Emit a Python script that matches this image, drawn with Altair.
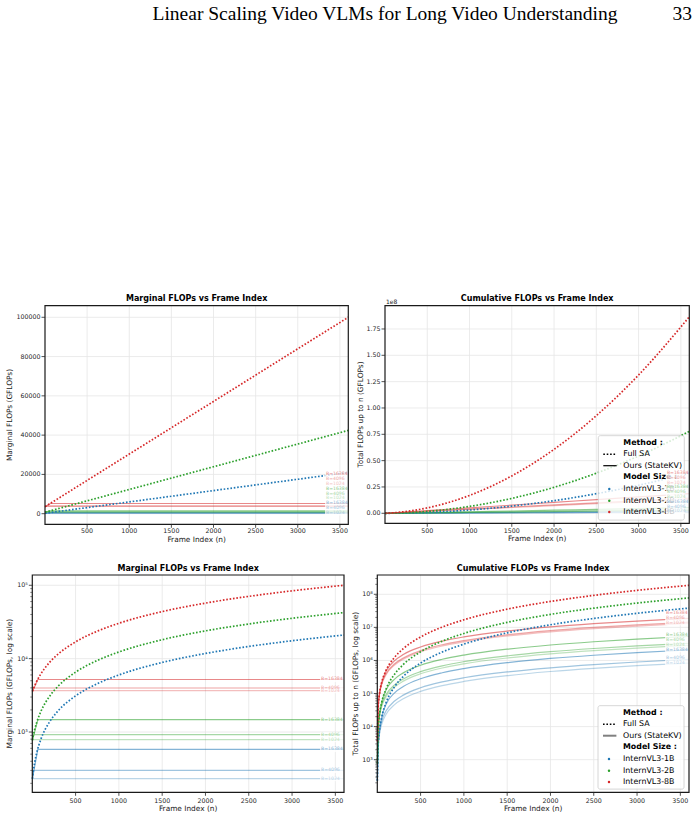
import altair as alt
import pandas as pd

FONT = "DejaVu Sans"
SERIF = "Liberation Serif"
INK = "#1a1a1a"
TICK_INK = "#262626"
GRID = "#e6e6e6"

# ---------------- data (GFLOPs) ----------------
FRAMES = [1, 10, 25, 50, 100, 200, 300, 500, 750, 1000, 1500, 2000, 2500, 3000, 3600]
MODELS = ["InternVL3-1B", "InternVL3-2B", "InternVL3-8B"]
MODEL_COLORS = ["#1f77b4", "#2ca02c", "#d62728"]
BUDGETS = [1024, 4096, 16384]
BUDGET_ALPHA = [0.3, 0.55, 0.85]

# Full self-attention: cost of processing frame n
FULL_MARG_1B = [231, 283, 369, 514, 802, 1379, 1956, 3110, 4553, 5995, 8880, 11765, 14650, 17535, 21000]
FULL_MARG_2B = [772, 876, 1049, 1339, 1917, 3074, 4231, 6545, 9438, 12330, 18115, 23900, 29685, 35470, 42410]
FULL_MARG_8B = [3580, 3820, 4220, 4890, 6230, 8910, 11590, 16950, 23650, 30350, 43750, 57150, 70550, 83950, 100000]

# StateKV: cost of frame 1, frame where the state budget fills up, plateau cost per budget
OURS_MARG_FIRST = [231, 772, 3580]
OURS_KNEE_FRAME = [4, 16, 64]
OURS_MARG_1B = [232, 300, 580]
OURS_MARG_2B = [790, 920, 1480]
OURS_MARG_8B = [3660, 3980, 5200]

# Cumulative cost up to frame n
FULL_CUM_1B = [231, 2570, 7500, 18610, 51640, 161000, 328000, 835200, 1794000, 3113000, 6833000, 11996000, 18601000, 26649000, 38210000]
FULL_CUM_2B = [772, 8236, 22760, 52750, 134400, 384600, 750400, 1829000, 3828000, 6551000, 14165000, 24670000, 38070000, 54360000, 77730000]
FULL_CUM_8B = [3580, 36970, 97460, 211700, 490300, 1249000, 2275000, 5132000, 10210000, 16960000, 35500000, 60730000, 92660000, 131300000, 186500000]

OURS_CUM_1B_B1024 = [231, 2318, 5798, 11600, 23200, 46400, 69600, 116000, 174000, 232000, 348000, 464000, 580000, 696000, 835200]
OURS_CUM_1B_B4096 = [231, 2570, 6950, 14450, 29450, 59450, 89450, 149400, 224400, 299400, 449400, 599400, 749400, 899400, 1079000]
OURS_CUM_1B_B16384 = [231, 2570, 7506, 18620, 46830, 104800, 162800, 278800, 423800, 568800, 858800, 1149000, 1439000, 1729000, 2077000]
OURS_CUM_2B_B1024 = [772, 7864, 19710, 39460, 78960, 158000, 237000, 395000, 592500, 790000, 1185000, 1580000, 1975000, 2370000, 2844000]
OURS_CUM_2B_B4096 = [772, 8236, 22020, 45020, 91020, 183000, 275000, 459000, 689000, 919000, 1379000, 1839000, 2299000, 2759000, 3311000]
OURS_CUM_2B_B16384 = [772, 8236, 22770, 52750, 125300, 273300, 421300, 717300, 1087000, 1457000, 2197000, 2937000, 3677000, 4417000, 5305000]
OURS_CUM_8B_B1024 = [3580, 36440, 91340, 182800, 365800, 731800, 1098000, 1830000, 2745000, 3660000, 5490000, 7320000, 9150000, 10980000, 13180000]
OURS_CUM_8B_B4096 = [3580, 36970, 96320, 195800, 394800, 792800, 1191000, 1987000, 2982000, 3977000, 5967000, 7957000, 9947000, 11940000, 14320000]
OURS_CUM_8B_B16384 = [3580, 36970, 97460, 211700, 468200, 988200, 1508000, 2548000, 3848000, 5148000, 7748000, 10350000, 12950000, 15550000, 18670000]

# ---------------- long tables ----------------
def full_table(series):
    rows = []
    for model, vals in zip(MODELS, series):
        rows += [{"n": n, "v": v, "model": model} for n, v in zip(FRAMES, vals)]
    return pd.DataFrame(rows)


full_marg = full_table([FULL_MARG_1B, FULL_MARG_2B, FULL_MARG_8B])
full_cum = full_table([FULL_CUM_1B, FULL_CUM_2B, FULL_CUM_8B])

rows = []
for model, first, plateaus in zip(MODELS, OURS_MARG_FIRST, [OURS_MARG_1B, OURS_MARG_2B, OURS_MARG_8B]):
    for b, knee, p in zip(BUDGETS, OURS_KNEE_FRAME, plateaus):
        for n, v in [(FRAMES[0], first), (knee, p), (FRAMES[-1], p)]:
            rows.append({"n": n, "v": v, "model": model, "budget": b, "series": f"{model}-{b}"})
ours_marg = pd.DataFrame(rows)

cum_series = [
    (MODELS[0], [OURS_CUM_1B_B1024, OURS_CUM_1B_B4096, OURS_CUM_1B_B16384]),
    (MODELS[1], [OURS_CUM_2B_B1024, OURS_CUM_2B_B4096, OURS_CUM_2B_B16384]),
    (MODELS[2], [OURS_CUM_8B_B1024, OURS_CUM_8B_B4096, OURS_CUM_8B_B16384]),
]
rows = []
for model, per_budget in cum_series:
    for b, vals in zip(BUDGETS, per_budget):
        rows += [{"n": n, "v": v, "model": model, "budget": b, "series": f"{model}-{b}"}
                 for n, v in zip(FRAMES, vals)]
ours_cum = pd.DataFrame(rows)

# ---------------- budget annotations (8B first, largest budget first) ----------------
LABEL_N = 3335


def label_table(ys):
    out, i = [], 0
    for model in reversed(MODELS):
        for b in reversed(BUDGETS):
            out.append({"n": LABEL_N, "v": ys[i], "model": model, "budget": b, "label": f"B={b}"})
            i += 1
    return pd.DataFrame(out)


lab_p1 = label_table([20060 - i * 2460 for i in range(9)])
lab_p2 = label_table([0.383e8 - i * 0.0456e8 for i in range(9)])
lab_p3 = label_table([p for plist in [OURS_MARG_8B, OURS_MARG_2B, OURS_MARG_1B] for p in reversed(plist)])
lab_p4 = label_table([2.67e7, 1.88e7, 1.39e7, 5.77e6, 4.16e6, 3.0e6, 2.12e6, 1.16e6, 8.2e5])

# ---------------- page layout ----------------
GEOM = {
    "p1": {"left": 45.0, "right": 348.3, "top": 305.7, "bottom": 524.3},
    "p2": {"left": 385.0, "right": 689.3, "top": 305.7, "bottom": 523.3},
    "p3": {"left": 32.3, "right": 344.0, "top": 575.0, "bottom": 792.3},
    "p4": {"left": 377.3, "right": 689.0, "top": 575.0, "bottom": 792.3},
}
X_DOMAIN = [0, 3600]
X_TICKS = [500, 1000, 1500, 2000, 2500, 3000, 3500]
SUP = str.maketrans("0123456789", "\u2070\u00b9\u00b2\u00b3\u2074\u2075\u2076\u2077\u2078\u2079")
TICK_FONT = 6.3
LEGEND_FONT = 7.9

one = pd.DataFrame({"k": [0]})


def text_at(x, y, text, size, weight="normal", align="center", angle=0, font=FONT, color=INK,
            baseline="middle"):
    return alt.Chart(one).mark_text(font=font, fontSize=size, fontWeight=weight, align=align,
                                    baseline=baseline, angle=angle, color=color).encode(
        x=alt.value(x), y=alt.value(y), text=alt.value(text))


def legend_layers(g, ours_color, ours_width, bottom_gap):
    left, right = g["right"] - 91, g["right"] - 5
    top, bottom = g["bottom"] - bottom_gap, g["bottom"] - 3.2
    rows_y = [top + d for d in (7, 18.6, 30, 41.3, 53.3, 65, 76.3)]
    tx = left + 25
    layers = [alt.Chart(one).mark_rect(fill="white", fillOpacity=0.8, stroke="#cccccc", strokeWidth=0.8,
                                       cornerRadius=2).encode(
        x=alt.value(left), x2=alt.value(right), y=alt.value(top), y2=alt.value(bottom))]
    entries = [("Method :", "bold"), ("Full SA", "normal"), ("Ours (StateKV)", "normal"),
               ("Model Size :", "bold")] + [(m, "normal") for m in MODELS]
    for (text, weight), yy in zip(entries, rows_y):
        layers.append(text_at(tx, yy, text, LEGEND_FONT, weight=weight, align="left", color="black"))
    layers.append(alt.Chart(one).mark_rule(color="black", strokeWidth=1.5, strokeDash=[1.6, 1.8]).encode(
        x=alt.value(left + 5), x2=alt.value(left + 18.4), y=alt.value(rows_y[1])))
    layers.append(alt.Chart(one).mark_rule(color=ours_color, strokeWidth=ours_width).encode(
        x=alt.value(left + 5), x2=alt.value(left + 18.4), y=alt.value(rows_y[2])))
    for c, yy in zip(MODEL_COLORS, rows_y[4:]):
        layers.append(alt.Chart(one).mark_point(filled=True, size=6, opacity=1, color=c).encode(
            x=alt.value(left + 11), y=alt.value(yy)))
    return layers


def panel(g, ydom, ylog, yticks, ytexts, title, ytitle, ytitle_x, full_df, ours_df, ours_interp,
          labels, tick_dy, xtitle_dy, minor=(), under=(), over=()):
    xs = alt.Scale(domain=X_DOMAIN, range=[g["left"], g["right"]], nice=False, zero=False)
    if ylog:
        ys = alt.Scale(type="log", domain=ydom, range=[g["bottom"], g["top"]], nice=False)
    else:
        ys = alt.Scale(domain=ydom, range=[g["bottom"], g["top"]], nice=False, zero=False)
    X = alt.X("n:Q", scale=xs, axis=None)
    Y = alt.Y("v:Q", scale=ys, axis=None)
    color = alt.Color("model:N", scale=alt.Scale(domain=MODELS, range=MODEL_COLORS), legend=None)
    opac = alt.Opacity("budget:O", scale=alt.Scale(domain=BUDGETS, range=BUDGET_ALPHA), legend=None)

    x0, x1 = X_DOMAIN
    y0, y1 = ydom
    xgrid = pd.DataFrame({"n": X_TICKS, "v": y0, "v2": y1, "t": [str(t) for t in X_TICKS]})
    ygrid = pd.DataFrame({"v": yticks, "n": x0, "n2": x1, "t": ytexts})
    frame = pd.DataFrame({"n": [x0], "n2": [x1], "v": [y0], "v2": [y1]})

    layers = [
        alt.Chart(xgrid).mark_rule(color=GRID, strokeWidth=0.8).encode(x=X, y=Y, y2=alt.Y2("v2")),
        alt.Chart(ygrid).mark_rule(color=GRID, strokeWidth=0.8).encode(y=Y, x=X, x2=alt.X2("n2")),
        alt.Chart(ours_df).mark_line(interpolate=ours_interp, strokeWidth=1.2).encode(
            x=X, y=Y, color=color, opacity=opac, detail="series:N"),
        alt.Chart(full_df).mark_line(interpolate="monotone", strokeWidth=1.7, strokeDash=[1.6, 1.8]).encode(
            x=X, y=Y, color=color, detail="model:N"),
    ]
    layers += list(under)
    layers += [
        alt.Chart(labels).mark_rect(fill="white", opacity=0.78, xOffset=-1, x2Offset=23,
                                    yOffset=-2.6, y2Offset=2.6).encode(
            x=X, x2=alt.X2("n"), y=Y, y2=alt.Y2("v")),
        alt.Chart(labels).mark_text(align="left", baseline="middle", font=FONT, fontSize=4.6).encode(
            x=X, y=Y, text="label:N", color=color, opacity=opac),
        # axes frame
        alt.Chart(frame).mark_rect(fill="white", fillOpacity=0, stroke=INK, strokeWidth=1.2).encode(
            x=X, x2=alt.X2("n2"), y=Y, y2=alt.Y2("v2")),
        # ticks
        alt.Chart(xgrid).mark_rule(color=TICK_INK, strokeWidth=0.8, y2Offset=3.5).encode(
            x=X, y=Y, y2=alt.Y2("v")),
        alt.Chart(ygrid).mark_rule(color=TICK_INK, strokeWidth=0.8, xOffset=-3.5).encode(
            y=Y, x=X, x2=alt.X2("n")),
        # tick labels
        alt.Chart(xgrid).mark_text(font=FONT, fontSize=TICK_FONT, color=TICK_INK, baseline="middle",
                                   dy=tick_dy).encode(x=X, y=Y, text="t:N"),
        alt.Chart(ygrid).mark_text(font=FONT, fontSize=TICK_FONT, color=TICK_INK, baseline="middle",
                                   align="right", dx=-4.5).encode(x=X, y=Y, text="t:N"),
    ]
    if len(minor):
        mdf = pd.DataFrame({"v": list(minor), "n": x0})
        layers.append(alt.Chart(mdf).mark_rule(color=TICK_INK, strokeWidth=0.6, xOffset=-2).encode(
            y=Y, x=X, x2=alt.X2("n")))
    cx = (g["left"] + g["right"]) / 2
    cy = (g["top"] + g["bottom"]) / 2
    layers += [
        text_at(cx, g["top"] - 6.4, title, 8, weight="bold", color="black"),
        text_at(ytitle_x, cy, ytitle, 7.4, angle=270),
        text_at(cx, g["bottom"] + xtitle_dy, "Frame Index (n)", 7.4),
    ]
    layers += list(over)
    return layers


def minor_ticks(lo, hi):
    return [m * 10 ** e for e in range(1, 10) for m in range(2, 10) if lo < m * 10 ** e < hi]


P1_YDOM = [-5400, 105900]
P2_YDOM = [-0.095e8, 1.971e8]
P3_YDOM = [151, 138000]
P4_YDOM = [103.4, 3.83e8]

p1_ticks = [0, 20000, 40000, 60000, 80000, 100000]
p2_ticks = [i * 0.25e8 for i in range(8)]
p3_ticks = [1e3, 1e4, 1e5]
p4_ticks = [1e3, 1e4, 1e5, 1e6, 1e7, 1e8]

g1, g2, g3, g4 = GEOM["p1"], GEOM["p2"], GEOM["p3"], GEOM["p4"]

layers = []
layers += panel(g1, P1_YDOM, False, p1_ticks, [str(t) for t in p1_ticks],
                "Marginal FLOPs vs Frame Index", "Marginal FLOPs (GFLOPs)", 9.5,
                full_marg, ours_marg, "linear", lab_p1, 6.6, 15.2)
layers += panel(g2, P2_YDOM, False, p2_ticks, [f"{t / 1e8:.2f}" for t in p2_ticks],
                "Cumulative FLOPs vs Frame Index", "Total FLOPs up to n (GFLOPs)", 360.7,
                full_cum, ours_cum, "monotone", lab_p2, 7.2, 15.6,
                under=legend_layers(g2, "black", 1.2, 87.6),
                over=[text_at(g2["left"] + 1, g2["top"] - 4, "1e8", 6, align="left", color=TICK_INK)])
layers += panel(g3, P3_YDOM, True, p3_ticks, ["10" + str(len(str(int(t))) - 1).translate(SUP) for t in p3_ticks],
                "Marginal FLOPs vs Frame Index", "Marginal FLOPs (GFLOPs, log scale)", 10.0,
                full_marg, ours_marg, "linear", lab_p3, 8.2, 16.4,
                minor=minor_ticks(*P3_YDOM))
layers += panel(g4, P4_YDOM, True, p4_ticks, ["10" + str(len(str(int(t))) - 1).translate(SUP) for t in p4_ticks],
                "Cumulative FLOPs vs Frame Index", "Total FLOPs up to n (GFLOPs, log scale)", 355.5,
                full_cum, ours_cum, "monotone", lab_p4, 8.2, 16.4,
                minor=minor_ticks(*P4_YDOM),
                under=legend_layers(g4, "#808080", 2.0, 86.6))

# running page header
layers += [
    text_at(152.5, 19.5, "Linear Scaling Video VLMs for Long Video Understanding", 19.5,
            align="left", font=SERIF, color="black", baseline="alphabetic"),
    text_at(672.5, 19.5, "33", 19.5, align="left", font=SERIF, color="black", baseline="alphabetic"),
]

chart = (
    alt.layer(*layers)
    .resolve_scale(x="independent", y="independent")
    .properties(width=698, height=819, padding=0, autosize=alt.AutoSizeParams(type="none"),
                background="white")
    .configure_view(stroke="transparent", strokeWidth=0)
)

chart.save("out.html", embed_options={"renderer": "svg", "actions": False})
